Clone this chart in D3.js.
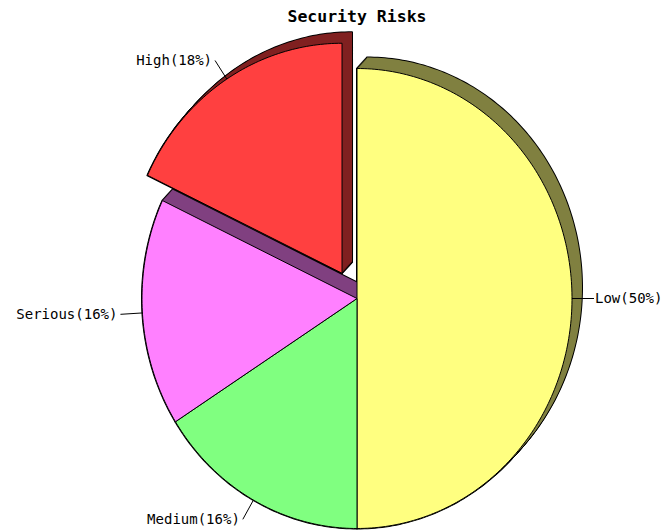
<!DOCTYPE html>
<meta charset="utf-8">
<body style="margin:0;background:#fff">
<script src="https://cdn.jsdelivr.net/npm/d3@7"></script>
<div id="chart"></div>
<script>

// data
var labels = ["Low", "Medium", "Serious", "High"];
var values = [50, 16, 16, 18];
var exploded = [false, false, false, true];

// colours (front face / side face)
var faceColors = ["#ffff80", "#80ff80", "#ff80ff", "#ff4040"];
var sideColors = ["#808040", "#408040", "#804080", "#802020"];

var width = 666, height = 531;
var cx = 357, cy = 298.5;
var rx = 215, ry = 230;
var depth = {dx: 10, dy: -11};
var explodeFrac = 0.13;
var leader = 22;

var svg = d3.select("#chart")
  .append("svg")
    .attr("width", width)
    .attr("height", height);

// title
svg.append("text")
    .attr("x", cx)
    .attr("y", 22)
    .attr("text-anchor", "middle")
    .style("font-family", "'DejaVu Sans Mono'")
    .style("font-weight", "bold")
    .style("font-size", "16.5px")
    .text("Security Risks");

var pie = d3.pie().sort(null).startAngle(0).endAngle(2 * Math.PI);
var arcs = pie(values);

// point on the ellipse, angle measured clockwise from 12 o'clock
function pt(a, ox, oy) {
  return [ox + rx * Math.sin(a), oy - ry * Math.cos(a)];
}

// elliptical wedge path
function wedge(d, ox, oy) {
  var n = Math.max(4, Math.ceil((d.endAngle - d.startAngle) * 60));
  var pts = [[ox, oy]];
  for (var i = 0; i <= n; i++) {
    var a = d.startAngle + (d.endAngle - d.startAngle) * i / n;
    pts.push(pt(a, ox, oy));
  }
  return d3.line()(pts) + "Z";
}

arcs.forEach(function(d, i) {
  var mid = (d.startAngle + d.endAngle) / 2;
  d.ox = cx + (exploded[i] ? Math.sin(mid) * explodeFrac * rx : 0);
  d.oy = cy - (exploded[i] ? Math.cos(mid) * explodeFrac * ry : 0);
  d.mid = mid;
  d.i = i;
});

var steps = d3.range(0, 12);

// side extrusions: outline pass, then fill pass
var gOutline = svg.append("g");
var gSide = svg.append("g");
arcs.forEach(function(d) {
  steps.forEach(function(k) {
    var t = k / (steps.length - 1);
    gOutline.append("path")
      .attr("d", wedge(d, d.ox + depth.dx * t, d.oy + depth.dy * t))
      .attr("fill", sideColors[d.i])
      .attr("stroke", "#000")
      .attr("stroke-width", 2)
      .attr("stroke-linejoin", "round");
  });
});
arcs.forEach(function(d) {
  steps.forEach(function(k) {
    var t = k / (steps.length - 1);
    gSide.append("path")
      .attr("d", wedge(d, d.ox + depth.dx * t, d.oy + depth.dy * t))
      .attr("fill", sideColors[d.i]);
  });
});

// front faces
svg.append("g").selectAll("path")
  .data(arcs)
  .enter()
  .append("path")
    .attr("d", function(d) { return wedge(d, d.ox, d.oy); })
    .attr("fill", function(d) { return faceColors[d.i]; })
    .attr("stroke", "#000")
    .attr("stroke-width", 1);

// leader lines + labels
var lab = svg.append("g").selectAll("g")
  .data(arcs)
  .enter()
  .append("g");

lab.append("line")
    .attr("x1", function(d) { return pt(d.mid, d.ox, d.oy)[0]; })
    .attr("y1", function(d) { return pt(d.mid, d.ox, d.oy)[1]; })
    .attr("x2", function(d) { return pt(d.mid, d.ox, d.oy)[0] + Math.sin(d.mid) * leader; })
    .attr("y2", function(d) { return pt(d.mid, d.ox, d.oy)[1] - Math.cos(d.mid) * leader; })
    .attr("stroke", "#000");

lab.append("text")
    .attr("x", function(d) {
      var s = Math.sin(d.mid);
      return pt(d.mid, d.ox, d.oy)[0] + s * leader + (s >= 0 ? 1 : -3);
    })
    .attr("y", function(d) { return pt(d.mid, d.ox, d.oy)[1] - Math.cos(d.mid) * leader; })
    .attr("dy", "0.35em")
    .attr("text-anchor", function(d) { return Math.sin(d.mid) >= 0 ? "start" : "end"; })
    .style("font-family", "'DejaVu Sans Mono'")
    .style("font-size", "14px")
    .style("fill", "#000")
    .text(function(d) { return labels[d.i] + "(" + d.value + "%)"; });

</script>
</body>
